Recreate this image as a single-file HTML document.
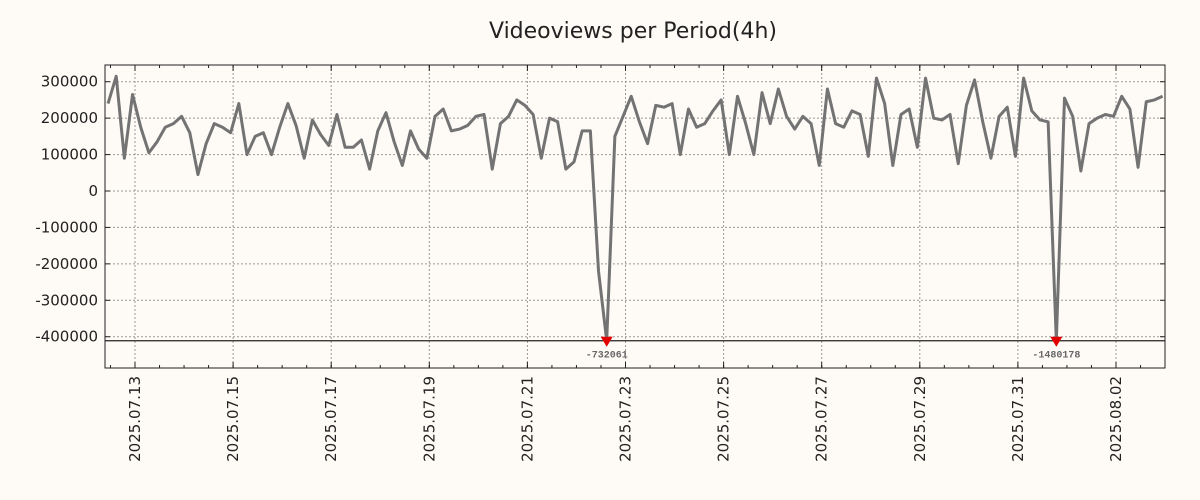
<!DOCTYPE html>
<html><head><meta charset="utf-8"><style>
body{margin:0;background:#fefaf6;}
svg{display:block;font-family:"DejaVu Sans","Liberation Sans",sans-serif;}
</style></head><body>
<svg id="chart" width="1200" height="500" viewBox="0 0 1200 500">
<rect width="1200" height="500" fill="#fefaf6"/>
<defs><clipPath id="pc"><rect x="105" y="65" width="1060" height="303"/></clipPath></defs>
<text x="633" y="38" text-anchor="middle" font-size="22" fill="#222">Videoviews per Period(4h)</text>
<g id="grid"></g><g id="axes"></g><g id="series" clip-path="url(#pc)"></g><g id="marks"></g>
</svg>
<script>
const values = [240000,315000,90000,265000,175000,105000,135000,175000,185000,205000,
160000,45000,130000,185000,175000,160000,240000,100000,150000,160000,
100000,175000,240000,180000,90000,195000,155000,125000,210000,120000,
120000,140000,60000,165000,215000,135000,70000,165000,115000,90000,
205000,225000,165000,170000,180000,205000,210000,60000,185000,205000,
250000,235000,210000,90000,200000,190000,60000,80000,165000,165000,
-220000,-732061,150000,205000,260000,190000,130000,235000,230000,240000,100000,225000,
175000,185000,220000,250000,100000,260000,185000,100000,270000,185000,
280000,205000,170000,205000,185000,70000,280000,185000,175000,220000,
210000,95000,310000,240000,70000,210000,225000,120000,310000,200000,
195000,210000,75000,235000,305000,190000,90000,205000,230000,95000,
310000,220000,195000,190000,-1480178,255000,205000,55000,185000,200000,210000,205000,260000,225000,65000,245000,250000,260000];
const yTicks = [300000,200000,100000,0,-100000,-200000,-300000,-400000];
const xTickLabels = ["2025.07.13","2025.07.15","2025.07.17","2025.07.19","2025.07.21","2025.07.23","2025.07.25","2025.07.27","2025.07.29","2025.07.31","2025.08.02"];
const xTickDays = [0,2,4,6,8,10,12,14,16,18,20];
const firstDay = -0.55, periodDays = 1/6, clipValue = -411000;

const L=105,R=1165,T=65,B=368;
const xS = d => 135 + d*49.05;
const yS = v => 191 - v*(255/700000);
const NS='http://www.w3.org/2000/svg';
function mk(tag, parent, attrs){const e=document.createElementNS(NS,tag);for(const k in attrs)e.setAttribute(k,attrs[k]);parent.appendChild(e);return e;}
const grid=document.getElementById('grid'), axes=document.getElementById('axes'), ser=document.getElementById('series'), marks=document.getElementById('marks');

yTicks.forEach(v=>{
  const y=yS(v);
  const g=mk('line',grid,{x1:L,x2:R,y1:y,y2:y,stroke:'#999','stroke-dasharray':'2,2','stroke-width':1});
  
  
  mk('line',axes,{x1:L,x2:L+5,y1:y,y2:y,stroke:'#222'});
  mk('line',axes,{x1:R,x2:R-5,y1:y,y2:y,stroke:'#222'});
  const t=mk('text',axes,{x:L-7,y:y+5,'text-anchor':'end','font-size':15,fill:'#222'});
  t.textContent=v;
  
  
});
for(let d=-0.5; d<21.2; d+=0.5){const x=xS(d); if(x<L||x>R)continue;
  mk('line',axes,{x1:x,x2:x,y1:T,y2:T+3,stroke:'#222'}); mk('line',axes,{x1:x,x2:x,y1:B,y2:B-3,stroke:'#222'});}
xTickDays.forEach((d,i)=>{
  const x=xS(d);
  const g=mk('line',grid,{x1:x,x2:x,y1:T,y2:B,stroke:'#999','stroke-dasharray':'2,2','stroke-width':1});
  
  
  mk('line',axes,{x1:x,x2:x,y1:B,y2:B-6,stroke:'#222'});
  mk('line',axes,{x1:x,x2:x,y1:T,y2:T+6,stroke:'#222'});
  const t=mk('text',axes,{x:x+5,y:B+8,'text-anchor':'end','font-size':15,fill:'#222',transform:`rotate(-90 ${x+5} ${B+8})`});
  t.textContent=xTickLabels[i];
  
  
});
const frame=mk('rect',axes,{x:L,y:T,width:R-L,height:B-T,fill:'none',stroke:'#222','stroke-width':1});


const cl=mk('line',axes,{x1:L,x2:R,y1:yS(clipValue),y2:yS(clipValue),stroke:'#222','stroke-width':1.2});



const pts=values.map((v,i)=>[xS(firstDay+i*periodDays), yS(Math.max(v,clipValue))]);
const pl=mk('polyline',ser,{points:pts.map(p=>p.join(',')).join(' '),fill:'none',stroke:'#737373','stroke-width':3,'stroke-linejoin':'round'});


values.forEach((v,i)=>{
  if(v>=clipValue)return;
  const [x,y]=pts[i];
  const m=mk('path',marks,{d:`M${x-6},${y-4} L${x+6},${y-4} L${x},${y+6} Z`,fill:'#e00000'});
  
  
  const t=mk('text',marks,{x:x,y:y+17,'text-anchor':'middle','font-size':10,'font-weight':'bold','font-family':'Liberation Mono, monospace',fill:'#666'});
  t.textContent=v;
  
  
});
</script>
</body></html>
